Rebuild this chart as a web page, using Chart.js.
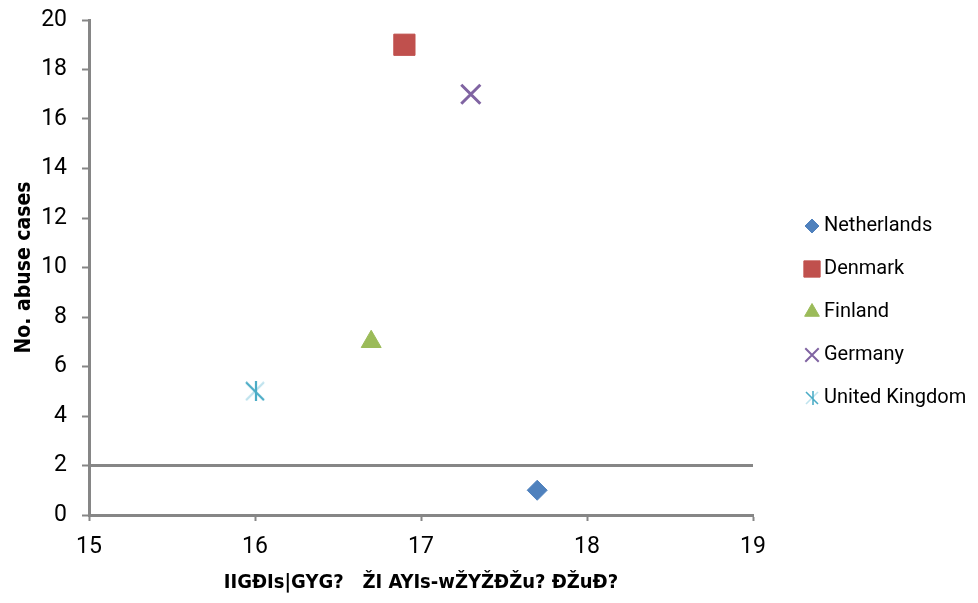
<!DOCTYPE html>
<html>
<head>
<meta charset="utf-8">
<script src="https://cdn.jsdelivr.net/npm/chart.js@4.4.0/dist/chart.umd.min.js"></script>
<style>
  html, body { margin: 0; padding: 0; background: #fff; }
  #wrap { width: 978px; height: 603px; }
</style>
</head>
<body>
<div id="wrap"><canvas id="chart" width="978" height="603"></canvas></div>
<script>
// --- data ---
const countries = ['Netherlands', 'Denmark', 'Finland', 'Germany', 'United Kingdom'];
const xValues = [17.7, 16.9, 16.7, 17.3, 16.0];
const yValues = [1, 19, 7, 17, 5];
const thresholdX = [15, 19];
const thresholdY = [2, 2];
const xTicks = [15, 16, 17, 18, 19];
const yTicks = [0, 2, 4, 6, 8, 10, 12, 14, 16, 18, 20];
const xTitle = 'IIGĐIs|GYG?   ŽI AYIs-wŽYŽĐŽu? ĐŽuĐ?';
const yTitle = 'No. abuse cases';

const colors = ['#4F81BD', '#C0504D', '#9BBB59', '#8064A2', '#4BACC6'];
const AXIS = '#868686';
const FONT = 'Roboto, "Noto Sans", sans-serif';
const TITLE_FONT = '"Liberation Sans Narrow", "DejaVu Sans Condensed", sans-serif';

// excel "star" marker: X plus a vertical bar
function starMarker(s, dark, light) {
    const c = document.createElement('canvas');
    c.width = c.height = s;
    const g = c.getContext('2d');
    g.lineWidth = Math.max(1.5, s / 9);
    g.strokeStyle = light;
    g.beginPath(); g.moveTo(s - 1, 1); g.lineTo(1, s - 1); g.stroke();
    g.strokeStyle = dark;
    g.beginPath();
    g.moveTo(1, 1); g.lineTo(s - 1, s - 1);
    g.moveTo(s / 2 + 1, 0); g.lineTo(s / 2 + 1, s);
    g.stroke();
    return c;
}

const styles = ['rectRot', 'rect', 'triangle', 'crossRot', starMarker(20, '#4BACC6', '#BFE3EE')];
const radii = [10, 15, 11.5, 13.5, 10];
const widths = [1, 1, 1, 3, 1];
const legendStyles = ['rectRot', 'rect', 'triangle', 'crossRot', starMarker(14, '#4BACC6', '#BFE3EE')];
const legendRadii = [7, 11.5, 8.5, 9.5, 7];

const datasets = countries.map((name, i) => ({
    label: name,
    type: 'scatter',
    data: [{ x: xValues[i], y: yValues[i] }],
    backgroundColor: colors[i],
    borderColor: colors[i],
    pointStyle: styles[i],
    pointRadius: radii[i],
    pointHoverRadius: radii[i],
    pointBorderWidth: widths[i],
}));

datasets.push({
    label: 'threshold',
    type: 'line',
    data: thresholdX.map((x, i) => ({ x: x, y: thresholdY[i] })),
    borderColor: AXIS,
    borderWidth: 3,
    pointRadius: 0,
    fill: false,
});

// legend drawn at the right side, like the excel one
const sideLegend = {
    id: 'sideLegend',
    afterDraw(chart) {
        const ctx = chart.ctx;
        ctx.save();
        ctx.font = '20px ' + FONT;
        ctx.textBaseline = 'middle';
        ctx.textAlign = 'left';
        countries.forEach((name, i) => {
            const y = 226 + i * 43;
            ctx.fillStyle = colors[i];
            ctx.strokeStyle = colors[i];
            ctx.lineWidth = i === 3 ? 2 : 1;
            Chart.helpers.drawPoint(ctx, { pointStyle: legendStyles[i], radius: legendRadii[i], borderWidth: ctx.lineWidth, rotation: 0 }, 812, y);
            ctx.fillStyle = '#000';
            ctx.fillText(name, 824, y);
        });
        ctx.restore();
    }
};

new Chart(document.getElementById('chart'), {
    type: 'scatter',
    data: { datasets: datasets },
    options: {
        responsive: false,
        animation: false,
        layout: { padding: { top: 20, left: 8, right: 225, bottom: 4 } },
        plugins: {
            legend: { display: false },
            tooltip: { enabled: false },
        },
        scales: {
            x: {
                type: 'linear',
                min: xTicks[0],
                max: xTicks[xTicks.length - 1],
                afterBuildTicks: s => { s.ticks = xTicks.map(v => ({ value: v })); },
                afterFit: s => { s.height = 84; s.paddingLeft = 0; s.paddingRight = 0; },
                grid: { drawOnChartArea: false, color: AXIS, tickLength: 6, tickWidth: 2 },
                border: { color: AXIS, width: 3 },
                ticks: { color: '#000', font: { family: FONT, size: 23 }, padding: 12 },
                title: { display: true, text: xTitle, color: '#000', font: { family: TITLE_FONT, size: 20, weight: 'bold' }, padding: { top: 10 } },
            },
            y: {
                type: 'linear',
                min: yTicks[0],
                max: yTicks[yTicks.length - 1],
                afterBuildTicks: s => { s.ticks = yTicks.map(v => ({ value: v })); },
                afterFit: s => { s.width = 81; s.paddingTop = 0; s.paddingBottom = 0; },
                grid: { drawOnChartArea: false, color: AXIS, tickLength: 7, tickWidth: 2 },
                border: { color: AXIS, width: 3 },
                ticks: { color: '#000', font: { family: FONT, size: 23 }, padding: 15 },
                title: { display: true, text: yTitle, color: '#000', font: { family: TITLE_FONT, size: 21, weight: 'bold' }, padding: { bottom: 8 } },
            },
        },
    },
    plugins: [sideLegend],
});
</script>
</body>
</html>
